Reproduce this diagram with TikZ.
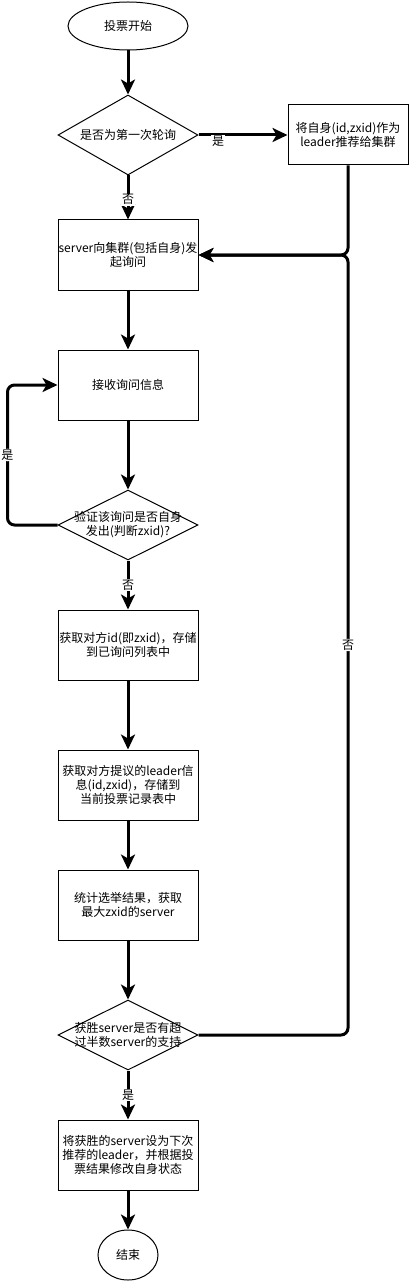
\documentclass[tikz,border=0pt]{standalone}
\usepackage{fontspec}
\setmainfont{Noto Sans CJK SC}
\usetikzlibrary{shapes.geometric,arrows.meta,calc}
\begin{document}
\begin{tikzpicture}[x=1pt,y=-1pt,
  every node/.style={font=\fontsize{12}{14}\selectfont, text=black},
  proc/.style={draw=black, line width=1pt, fill=white, rectangle, minimum width=140pt, minimum height=70pt, inner sep=0pt, align=center},
  term/.style={draw=black, line width=1pt, fill=white, ellipse, inner sep=0pt},
  decision/.style={draw=black, line width=1pt, fill=white, diamond, inner sep=0pt, minimum width=140pt, minimum height=70pt},
  flow/.style={line width=3pt, -{Stealth[length=15pt,width=14pt,inset=4pt]}},
  plain/.style={line width=3pt},
  lbl/.style={fill=white, inner sep=1pt}
]
\useasboundingbox (0,0) rectangle (410,1281);

\node[term, minimum width=120pt, minimum height=48pt] (start) at (128,26) {投票开始};
\node[decision, minimum height=80pt, label={[align=center]center:是否为第一次轮询}] (d1) at (128,135) {};
\node[proc, minimum width=120pt, minimum height=60pt] (rbox) at (348,135) {将自身(id,zxid)作为\\leader推荐给集群};
\node[proc] (b2) at (128,255) {server向集群(包括自身)发\\起询问};
\node[proc] (b3) at (128,385) {接收询问信息};
\node[decision, label={[align=center]center:验证该询问是否自身\\发出(判断zxid)?}] (d2) at (128,525) {};
\node[proc] (b4) at (128,645) {获取对方id(即zxid)，存储\\到已询问列表中};
\node[proc] (b5) at (128,785) {获取对方提议的leader信\\息(id,zxid)，存储到\\当前投票记录表中};
\node[proc] (b6) at (128,905) {统计选举结果，获取\\最大zxid的server};
\node[decision, label={[align=center]center:获胜server是否有超\\过半数server的支持}] (d3) at (128,1035) {};
\node[proc] (b7) at (128,1155) {将获胜的server设为下次\\推荐的leader，并根据投\\票结果修改自身状态};
\node[term, minimum width=60pt, minimum height=50pt] (end) at (128,1255) {结束};

\coordinate (j) at (rbox.south |- b2.east);

\draw[flow] (start) -- (d1);
\draw[flow] (d1.east) -- node[lbl, pos=0.22, yshift=-6pt] {是} (rbox.west);
\draw[flow] (d1.south) -- node[lbl, pos=0.55] {否} (b2.north);
\draw[flow, rounded corners=7pt] (rbox.south) -- (j) -- (b2.east);
\draw[flow] (b2) -- (b3);
\draw[flow] (b3) -- (d2);
\draw[flow, rounded corners=7pt] (d2.west) -- ++(-50,0) |- node[lbl, pos=0.25] {是} (b3.west);
\draw[flow] (d2.south) -- node[lbl, pos=0.5] {否} (b4.north);
\draw[flow] (b4) -- (b5);
\draw[flow] (b5) -- (b6);
\draw[flow] (b6) -- (d3);
\draw[flow, rounded corners=7pt] (d3.east) -| node[lbl, pos=0.75] {否} (j) -- (b2.east);
\draw[flow] (d3.south) -- node[lbl, pos=0.5] {是} (b7.north);
\draw[flow] (b7) -- (end);
\end{tikzpicture}
\end{document}
